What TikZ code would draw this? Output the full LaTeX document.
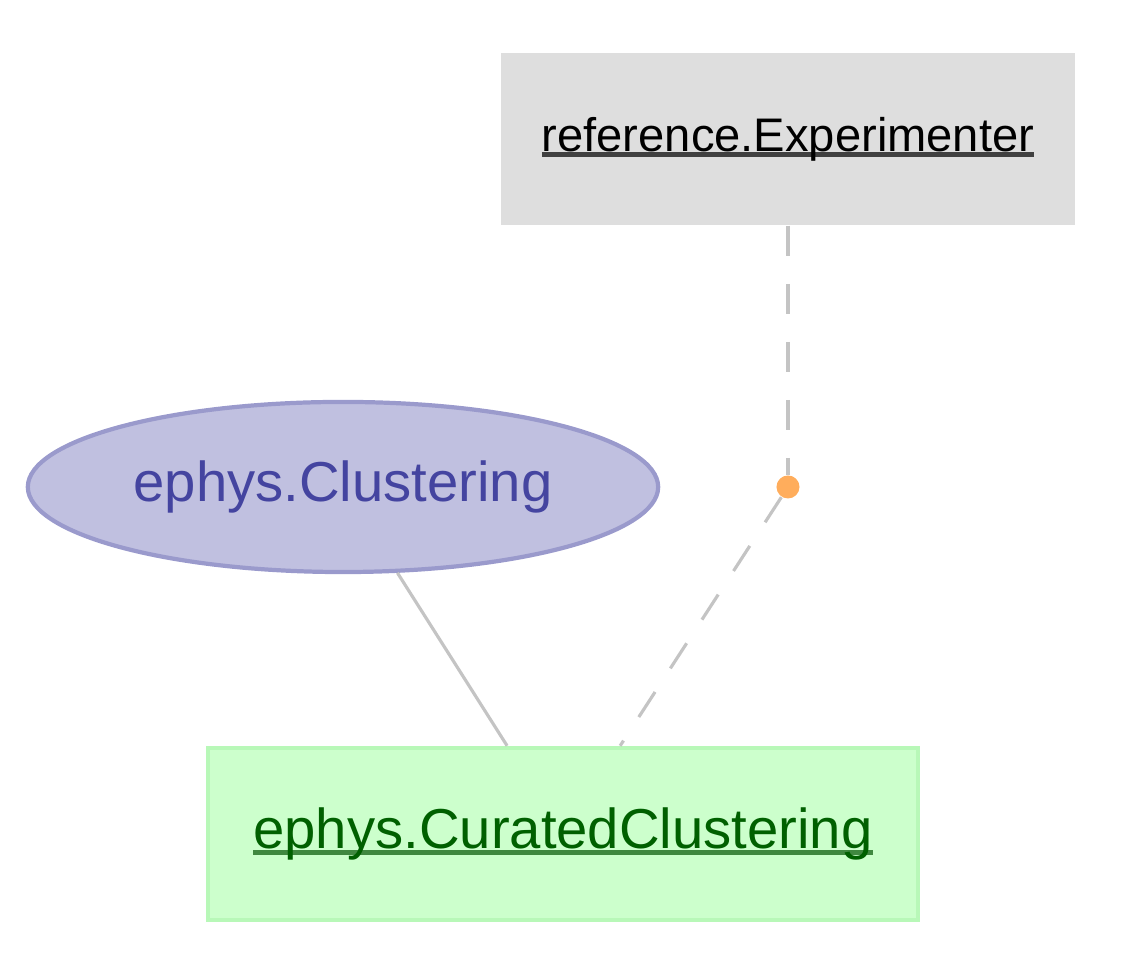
\documentclass[tikz,border=0pt]{standalone}
\usepackage{fontspec}
\setmainfont{Liberation Sans}
\usepackage{tikz}
\usetikzlibrary{shapes.geometric}

\definecolor{lookupgray}{HTML}{DEDEDE}
\definecolor{computedfill}{HTML}{C0C0E0}
\definecolor{computedline}{HTML}{9A9ACC}
\definecolor{computedtext}{HTML}{4444A0}
\definecolor{manualfill}{HTML}{CCFFCC}
\definecolor{manualline}{HTML}{B8F8B8}
\definecolor{manualtext}{HTML}{006000}
\definecolor{joindot}{HTML}{FFAD5C}
\definecolor{edgegray}{HTML}{C4C4C4}

% underlined table name, thick rule close to the baseline
\newcommand{\tablelink}[1]{\setbox0\hbox{#1}\rlap{\color{.!75!white}\rule[-1.7pt]{\wd0}{1.4pt}}\box0}

\begin{document}
\begin{tikzpicture}[x=0.01cm,y=-0.01cm,
	lookup/.style={rectangle, fill=lookupgray, minimum width=5.73cm, minimum height=1.72cm, inner sep=0pt},
	computed/.style={ellipse, fill=computedfill, draw=computedline, line width=1.2pt, minimum width=6.3cm, minimum height=1.7cm, inner sep=0pt, text=computedtext},
	manual/.style={rectangle, fill=manualfill, draw=manualline, line width=1.2pt, minimum width=7.1cm, minimum height=1.72cm, inner sep=0pt, text=manualtext},
	edge/.style={edgegray, line width=0.9pt},
	dashedge/.style={edge, dash pattern=on 8.5pt off 8pt}]

	\useasboundingbox (0,0) rectangle (1147,965);

	\node[lookup] (experimenter) at (788,139) {\fontsize{13.4}{16}\selectfont\tablelink{reference.Experimenter}};
	\node[computed] (clustering) at (343,487) {\fontsize{16}{19}\selectfont ephys.Clustering};
	\node[manual] (curated) at (563,834) {\fontsize{16}{19}\selectfont\tablelink{ephys.CuratedClustering}};
	\node[circle, fill=joindot, minimum size=0.23cm, inner sep=0pt] (dot) at (788,487) {};

	\draw[dashedge] (experimenter) -- (dot);
	\draw[dashedge] (dot) -- (curated);
	\draw[edge] (clustering) -- (curated);

\end{tikzpicture}
\end{document}
